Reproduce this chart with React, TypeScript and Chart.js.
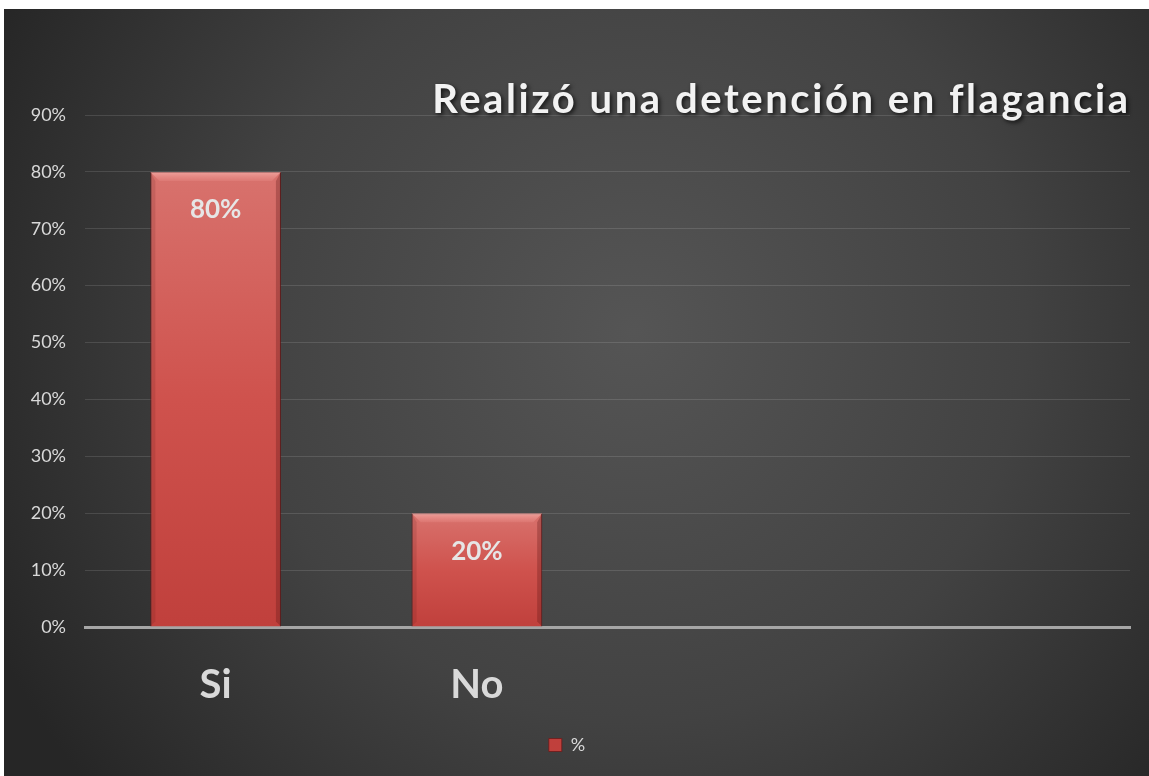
import React, { useEffect, useRef } from "react";
import { Chart, registerables } from "chart.js";

Chart.register(...registerables);

const categories: string[] = ["Si", "No", "", ""];
const seriesLabel = "%";
const values: (number | null)[] = [0.8, 0.2, null, null];
const yTicks: number[] = [0, 0.1, 0.2, 0.3, 0.4, 0.5, 0.6, 0.7, 0.8, 0.9];
const titleText = "Realizó una detención en flagancia";

const FONT = "Lato, 'Open Sans', sans-serif";
const TEXT = "#d9d9d9";

const bgPlugin = {
  id: "bgPlugin",
  beforeDraw(chart: any) {
    const { ctx, width, height } = chart;
    ctx.save();
    const g = ctx.createRadialGradient(width * 0.55, height * 0.42, 0, width * 0.55, height * 0.42, width * 0.62);
    g.addColorStop(0, "#555555");
    g.addColorStop(0.55, "#424242");
    g.addColorStop(1, "#262626");
    ctx.fillStyle = g;
    ctx.fillRect(0, 0, width, height);
    ctx.restore();
  },
};

const titlePlugin = {
  id: "titlePlugin",
  afterDraw(chart: any) {
    const { ctx, chartArea } = chart;
    ctx.save();
    ctx.font = `bold 40px ${FONT}`;
    const n = titleText.length;
    ctx.letterSpacing = "0px";
    const w0 = ctx.measureText(titleText).width;
    const target = 696;
    const ls = Math.max(0, (target - w0) / (n - 1));
    ctx.letterSpacing = `${ls}px`;
    ctx.textAlign = "right";
    ctx.textBaseline = "alphabetic";
    ctx.shadowColor = "rgba(0,0,0,0.7)";
    ctx.shadowBlur = 4;
    ctx.shadowOffsetX = 2;
    ctx.shadowOffsetY = 2;
    ctx.fillStyle = "#f2f2f2";
    ctx.fillText(titleText, chartArea.right - 2 + ls, chartArea.top - 2);
    ctx.restore();
  },
};

const barDecorPlugin = {
  id: "barDecorPlugin",
  afterDatasetsDraw(chart: any) {
    const { ctx } = chart;
    const meta = chart.getDatasetMeta(0);
    ctx.save();
    meta.data.forEach((bar: any, i: number) => {
      const v = values[i];
      if (v == null) return;
      const left = bar.x - bar.width / 2;
      const right = bar.x + bar.width / 2;
      const top = bar.y;
      const bottom = bar.base;
      const b = 9;
      ctx.beginPath();
      ctx.moveTo(left, top);
      ctx.lineTo(right, top);
      ctx.lineTo(right - b, top + b);
      ctx.lineTo(left + b, top + b);
      ctx.closePath();
      const gb = ctx.createLinearGradient(0, top, 0, top + b);
      gb.addColorStop(0, "rgba(255,200,195,0.55)");
      gb.addColorStop(1, "rgba(255,170,165,0.15)");
      ctx.fillStyle = gb;
      ctx.fill();
      ctx.beginPath();
      ctx.moveTo(right, top);
      ctx.lineTo(right, bottom);
      ctx.lineTo(right - 5, bottom - 5);
      ctx.lineTo(right - 5, top + b);
      ctx.closePath();
      ctx.fillStyle = "rgba(90,20,20,0.3)";
      ctx.fill();
      ctx.beginPath();
      ctx.moveTo(left, top);
      ctx.lineTo(left, bottom);
      ctx.lineTo(left + 5, bottom - 5);
      ctx.lineTo(left + 5, top + b);
      ctx.closePath();
      ctx.fillStyle = "rgba(90,20,20,0.15)";
      ctx.fill();
      ctx.font = `bold 26px ${FONT}`;
      ctx.fillStyle = "#e6e6e6";
      ctx.textAlign = "center";
      ctx.textBaseline = "middle";
      ctx.fillText(`${Math.round(v * 100)}%`, bar.x, top + 38);
    });
    ctx.restore();
  },
};

export default function App() {
  const ref = useRef<HTMLCanvasElement | null>(null);

  useEffect(() => {
    if (!ref.current) return;
    const chart = new Chart(ref.current, {
      type: "bar",
      data: {
        labels: categories,
        datasets: [
          {
            label: seriesLabel,
            data: values,
            backgroundColor: (c: any) => {
              const ch = c.chart;
              const ca = ch.chartArea;
              if (!ca || c.raw == null || !ch.scales.y) return "#cc4a45";
              const top = ch.scales.y.getPixelForValue(c.raw);
              const bottom = ch.scales.y.getPixelForValue(0);
              const g = ch.ctx.createLinearGradient(0, top, 0, bottom);
              g.addColorStop(0, "#d8726d");
              g.addColorStop(0.5, "#cf524d");
              g.addColorStop(1, "#c0403c");
              return g;
            },
            borderColor: "rgba(110,25,25,0.8)",
            borderWidth: 1,
            barPercentage: 0.5,
            categoryPercentage: 1,
          },
        ],
      },
      options: {
        animation: false,
        responsive: true,
        maintainAspectRatio: false,
        layout: { padding: { top: 106, right: 19, bottom: 12, left: 0 } },
        plugins: {
          title: { display: false },
          tooltip: { enabled: false },
          legend: {
            display: true,
            position: "bottom",
            labels: {
              color: TEXT,
              font: { family: FONT, size: 18 },
              boxWidth: 13,
              boxHeight: 13,
              padding: 9,
            },
          },
        },
        scales: {
          x: {
            grid: { display: false },
            border: { display: true, color: "#a6a6a6", width: 3 },
            ticks: {
              color: TEXT,
              font: { family: FONT, size: 40, weight: "bold" },
              padding: 26,
            },
            afterFit: (s: any) => {
              s.height = 100;
            },
          },
          y: {
            min: 0,
            max: 0.9,
            afterBuildTicks: (s: any) => {
              s.ticks = yTicks.map((v) => ({ value: v }));
            },
            grid: {
              color: "rgba(255,255,255,0.12)",
              lineWidth: 1,
              drawTicks: false,
            },
            border: { display: false },
            ticks: {
              color: TEXT,
              font: { family: FONT, size: 18 },
              padding: 19,
              callback: (v: any) => `${Math.round(Number(v) * 100)}%`,
            },
            afterFit: (s: any) => {
              s.width = 81;
            },
          },
        },
      },
      plugins: [bgPlugin, barDecorPlugin, titlePlugin],
    });
    return () => chart.destroy();
  }, []);

  return (
    <div style={{ position: "fixed", left: 4, top: 9, width: 1145, height: 767 }}>
      <canvas ref={ref} />
    </div>
  );
}
